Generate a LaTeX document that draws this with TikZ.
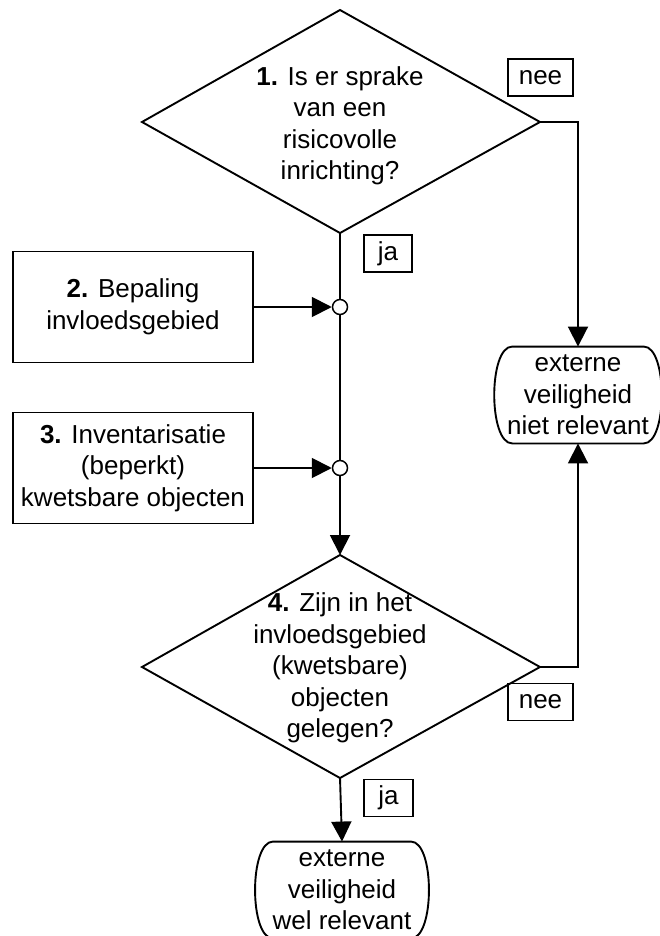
\documentclass[tikz,border=0pt]{standalone}
\usepackage{fontspec}
\setmainfont{Liberation Sans}
\usetikzlibrary{arrows.meta,calc}
\newcommand\termshape[1]{%
  \draw ($(#1.north west)+(6,0)$) -- ($(#1.north east)+(-6,0)$)
    .. controls ($(#1.north east)+(18,0)$) and ($(#1.south east)+(18,0)$) .. ($(#1.south east)+(-6,0)$)
    -- ($(#1.south west)+(6,0)$)
    .. controls ($(#1.south west)+(-18,0)$) and ($(#1.north west)+(-18,0)$) .. cycle;}
\begin{document}
\begin{tikzpicture}[x=1pt,y=-1pt, line width=1.9pt,
  txt/.style={align=center, font=\fontsize{26}{31.5}\selectfont, inner sep=0pt},
  arr/.style={-{Triangle[length=20pt,width=20pt]}},
  lbl/.style={draw, font=\fontsize{26}{30}\selectfont, inner sep=0pt, minimum height=37pt},
  procbox/.style={draw, txt, minimum width=240pt, minimum height=111pt},
  term/.style={txt, minimum height=95pt},
  dot/.style={circle, draw, fill=white, minimum size=15pt, inner sep=0pt, line width=1.5pt}]
\useasboundingbox (0,0) rectangle (659,936);

% decision 1
\coordinate (d1t) at (340,10);
\coordinate (d1l) at (142,122);
\coordinate (d1r) at (540,122);
\coordinate (d1b) at (340,233);
\draw (d1t) -- (d1r) -- (d1b) -- (d1l) -- cycle;
\node[txt] (d1) at (340,126) {\textbf{1.} Is er sprake\\van een\\risicovolle\\inrichting?};

% process boxes
\node[procbox] (b2) at (133,307) {\textbf{2.} Bepaling\\invloedsgebied};
\node[procbox] (b3) at (133,468) {\textbf{3.} Inventarisatie\\(beperkt)\\kwetsbare objecten};
\node[dot] (c2) at (340,307) {};
\node[dot] (c3) at (340,468) {};

% decision 4
\coordinate (d4t) at (340,555);
\coordinate (d4l) at (142,667);
\coordinate (d4r) at (540,667);
\coordinate (d4b) at (340,778);
\draw (d4t) -- (d4r) -- (d4b) -- (d4l) -- cycle;
\node[txt] (d4) at (340,668) {\textbf{4.} Zijn in het\\invloedsgebied\\(kwetsbare)\\objecten\\gelegen?};

% terminals
\node[term, minimum width=140pt] (t1) at (578,395) {externe\\veiligheid\\niet relevant};
\termshape{t1}
\node[term, minimum width=148pt] (t2) at (342,890) {externe\\veiligheid\\wel relevant};
\termshape{t2}

% labels
\node[lbl, minimum width=65pt] (nee1) at (540.5,77.5) {nee};
\node[lbl, minimum width=48pt] (ja1) at (388,253.5) {ja};
\node[lbl, minimum width=65pt] (nee2) at (540.5,702) {nee};
\node[lbl, minimum width=49pt] (ja2) at (388.5,798) {ja};

% connectors
\draw (d1b) -- (c2.north);
\draw (c2.south) -- (c3.north);
\draw[arr] (c3.south) -- (d4t);
\draw[arr] (b2.east) -- (c2.west);
\draw[arr] (b3.east) -- (c3.west);
\draw[arr] (d1r) -| (t1.north);
\draw[arr] (d4r) -| (t1.south);
\draw[arr] (d4b) -- (t2.north);
\end{tikzpicture}
\end{document}
